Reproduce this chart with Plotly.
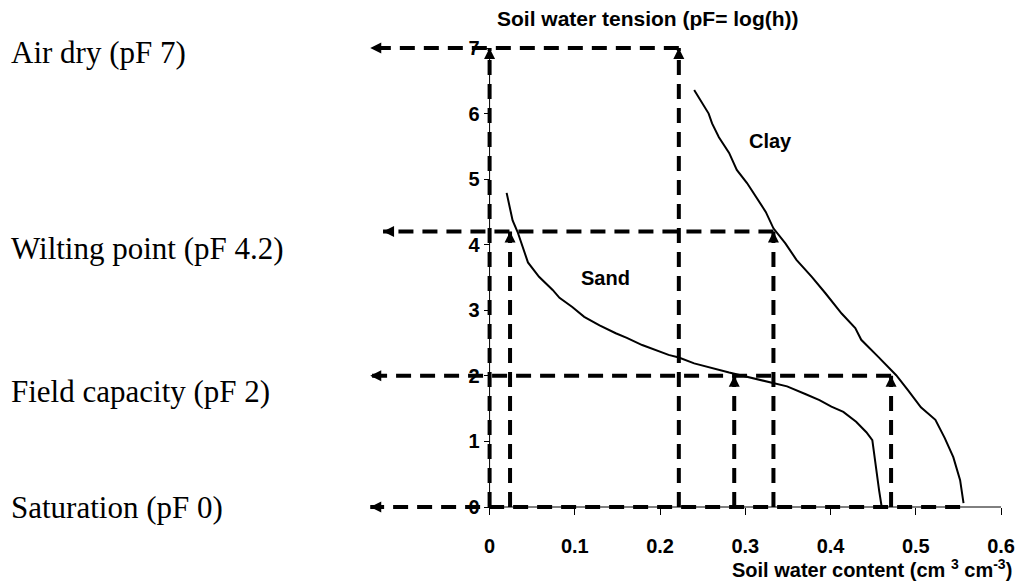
import plotly.graph_objects as go

# ---------------- data ----------------
sand_theta = [0.020, 0.027, 0.033, 0.045, 0.058, 0.074, 0.082, 0.097, 0.111, 0.129,
              0.148, 0.161, 0.179, 0.196, 0.210, 0.222, 0.240, 0.281, 0.300, 0.330,
              0.349, 0.371, 0.387, 0.401, 0.415, 0.430, 0.442, 0.449, 0.453, 0.457, 0.460]
sand_pf = [4.79, 4.37, 4.19, 3.73, 3.51, 3.31, 3.19, 3.05, 2.90, 2.77,
           2.65, 2.58, 2.47, 2.39, 2.32, 2.28, 2.19, 2.05, 1.99, 1.89,
           1.84, 1.72, 1.63, 1.53, 1.45, 1.30, 1.14, 1.02, 0.60, 0.25, 0.00]

clay_theta = [0.240, 0.257, 0.261, 0.269, 0.281, 0.290, 0.302, 0.313, 0.324, 0.333,
              0.347, 0.360, 0.378, 0.394, 0.413, 0.429, 0.436, 0.456, 0.468, 0.477,
              0.491, 0.506, 0.523, 0.534, 0.544, 0.552, 0.556]
clay_pf = [6.36, 6.00, 5.85, 5.64, 5.40, 5.14, 4.94, 4.73, 4.50, 4.25,
           4.02, 3.77, 3.51, 3.26, 2.95, 2.73, 2.55, 2.29, 2.13, 2.01,
           1.78, 1.52, 1.33, 1.05, 0.76, 0.41, 0.06]

# reference lines: horizontal (pF level, from arrow tip to curve)
h_levels = [7, 4.2, 2, 0]
h_start = [-0.140, -0.125, -0.140, -0.140]
h_end = [0.222, 0.333, 0.471, 0.552]
# vertical (water content, from pF 0 up to level)
v_theta = [0.0, 0.024, 0.222, 0.287, 0.333, 0.471]
v_top = [7, 4.2, 7, 2, 4.2, 2]

x_tickvals = [0, 0.1, 0.2, 0.3, 0.4, 0.5, 0.6]
x_ticktext = ["0", "0.1", "0.2", "0.3", "0.4", "0.5", "0.6"]
y_tickvals = [0, 1, 2, 3, 4, 5, 6, 7]
y_ticktext = ["0", "1", "2", "3", "4", "5", "6", "7"]

state_labels = ["Air dry (pF 7)", "Wilting point (pF 4.2)", "Field capacity (pF 2)", "Saturation (pF 0)"]
state_label_y_px = [53, 248, 391, 507]

# ---------------- layout geometry ----------------
W, H = 1021, 582
PL, PR, PT, PB = 355, 1015, 35, 515          # plot area in pixels
OX, OY = 490, 507                            # origin pixel
XS = (1003 - OX) / 0.6                       # px per unit x
YS = (OY - 48) / 7.0                         # px per unit y
x_range = [(PL - OX) / XS, (PR - OX) / XS]
y_range = [(OY - PB) / YS, (OY - PT) / YS]


def paper_x(p):
    return (p - PL) / (PR - PL)


def paper_y(p):
    return (PB - p) / (PB - PT)


BOLD = dict(family="Liberation Sans, Arial, sans-serif", size=20, color="black", weight="bold")
TITLE = dict(family="Liberation Sans, Arial, sans-serif", size=21, color="black", weight="bold")
SERIF = dict(family="Liberation Serif, Times New Roman, serif", size=31, color="black")
DASH = "15px,9px"

fig = go.Figure()

for lvl, xs, xe in zip(h_levels, h_start, h_end):
    fig.add_trace(go.Scatter(x=[xe, xs], y=[lvl, lvl], mode="lines",
                             line=dict(color="black", width=4, dash=DASH),
                             hoverinfo="skip", showlegend=False))
for xv, top in zip(v_theta, v_top):
    fig.add_trace(go.Scatter(x=[xv, xv], y=[0, top], mode="lines",
                             line=dict(color="black", width=4, dash=DASH),
                             hoverinfo="skip", showlegend=False))

# arrowheads as markers (tip sits on the data point)
fig.add_trace(go.Scatter(x=h_start, y=h_levels, mode="markers",
                         marker=dict(symbol="arrow-left", size=11, color="black"),
                         hoverinfo="skip", showlegend=False))
fig.add_trace(go.Scatter(x=v_theta, y=v_top, mode="markers",
                         marker=dict(symbol="arrow-up", size=11, color="black"),
                         hoverinfo="skip", showlegend=False))

fig.add_trace(go.Scatter(x=sand_theta, y=sand_pf, mode="lines",
                         line=dict(color="black", width=2), name="Sand", showlegend=False))
fig.add_trace(go.Scatter(x=clay_theta, y=clay_pf, mode="lines",
                         line=dict(color="black", width=2), name="Clay", showlegend=False))

# axis lines
fig.add_shape(type="line", x0=0, y0=0, x1=0.6, y1=0, xref="x", yref="y",
              line=dict(color="black", width=1))
fig.add_shape(type="line", x0=0, y0=0, x1=0, y1=7, xref="x", yref="y",
              line=dict(color="black", width=1))

annotations = []
annotations.append(dict(x=paper_x(495), y=paper_y(19), xref="paper", yref="paper",
                        xanchor="left", yanchor="middle", showarrow=False,
                        text="Soil water tension (pF= log(h))", font=TITLE))
annotations.append(dict(x=paper_x(1016), y=paper_y(568), xref="paper", yref="paper",
                        xanchor="right", yanchor="middle", showarrow=False,
                        text="Soil water content (cm <sup>3</sup> cm<sup>-3</sup>)", font=BOLD))
annotations.append(dict(x=paper_x(606), y=paper_y(278), xref="paper", yref="paper",
                        xanchor="center", yanchor="middle", showarrow=False,
                        text="Sand", font=BOLD))
annotations.append(dict(x=paper_x(772), y=paper_y(141), xref="paper", yref="paper",
                        xanchor="center", yanchor="middle", showarrow=False,
                        text="Clay", font=BOLD))
for lab, ypx in zip(state_labels, state_label_y_px):
    annotations.append(dict(x=paper_x(8), y=paper_y(ypx), xref="paper", yref="paper",
                            xanchor="left", yanchor="middle", showarrow=False,
                            text=lab, font=SERIF))

fig.update_layout(
    width=W, height=H,
    margin=dict(l=PL, r=W - PR, t=PT, b=H - PB, pad=0),
    paper_bgcolor="white", plot_bgcolor="white",
    showlegend=False,
    annotations=annotations,
    xaxis=dict(range=x_range, showgrid=False, zeroline=False, showline=False,
               tickvals=x_tickvals, ticktext=x_ticktext, ticks="outside",
               ticklen=7, tickwidth=1, tickcolor="black", tickfont=BOLD,
               anchor="free", position=paper_y(OY), ticklabelstandoff=14),
    yaxis=dict(range=y_range, showgrid=False, zeroline=False, showline=False,
               tickvals=y_tickvals, ticktext=y_ticktext, ticks="outside",
               ticklen=6, tickwidth=1, tickcolor="black", tickfont=BOLD,
               anchor="free", position=paper_x(OX)),
)

fig.write_html("out.html", config={"displayModeBar": False},
               post_script="document.body.style.margin='0';")
